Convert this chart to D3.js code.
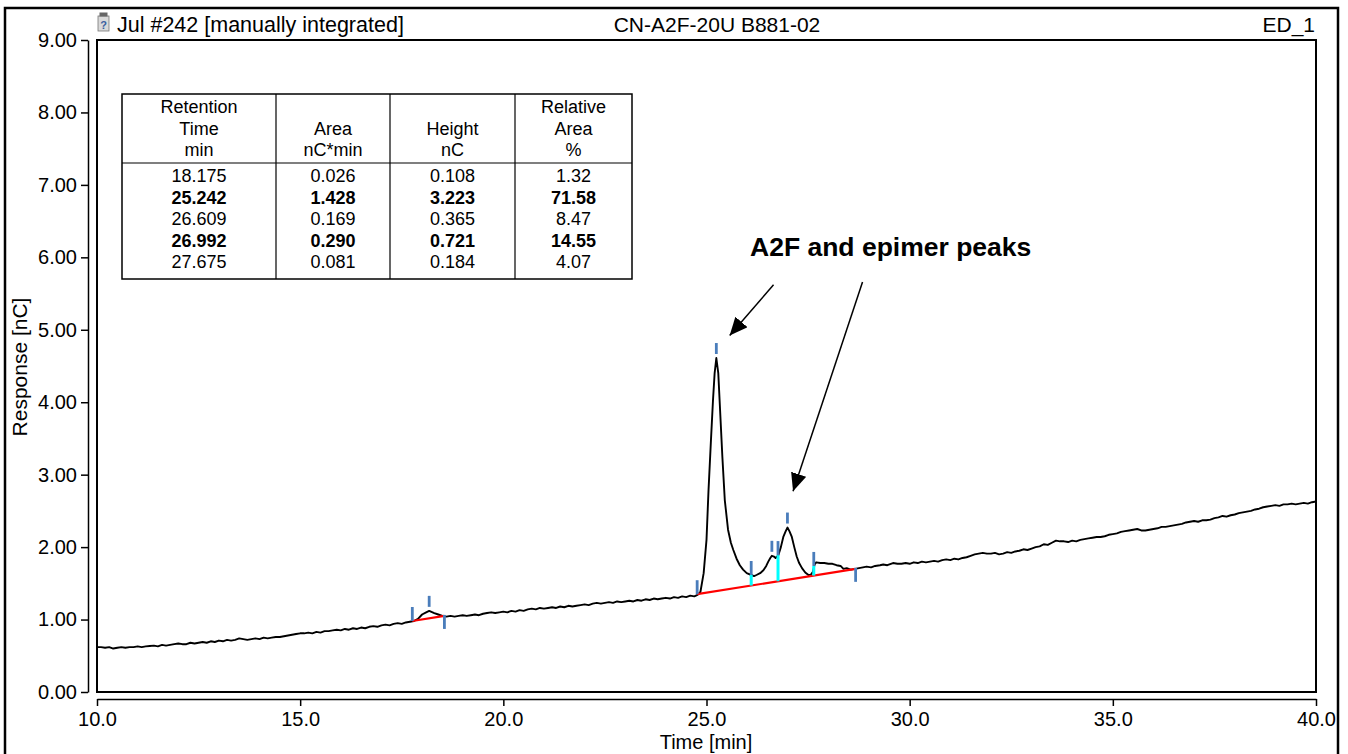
<!DOCTYPE html>
<html>
<head>
<meta charset="utf-8">
<script src="https://cdn.jsdelivr.net/npm/d3@7"></script>
<style>
body { margin: 0; background: #fff; }
text { font-family: Arial, "Liberation Sans", sans-serif; fill: #000; }
</style>
</head>
<body>
<div id="chart"></div>
<script>
// chromatogram, [time min, response nC]
var trace = [
  [10.0,0.62],[10.1,0.62],[10.2,0.61],[10.3,0.62],[10.4,0.60],[10.5,0.61],[10.6,0.62],[10.7,0.61],[10.8,0.62],[10.9,0.62],
  [11.0,0.63],[11.1,0.62],[11.2,0.63],[11.3,0.635],[11.4,0.64],[11.5,0.63],[11.6,0.65],[11.7,0.64],[11.8,0.65],[11.9,0.66],
  [12.0,0.67],[12.1,0.66],[12.2,0.66],[12.3,0.68],[12.4,0.67],[12.5,0.68],[12.6,0.69],[12.7,0.68],[12.8,0.70],[12.9,0.69],
  [13.0,0.71],[13.1,0.70],[13.2,0.72],[13.3,0.71],[13.4,0.72],[13.5,0.74],[13.6,0.73],[13.7,0.72],[13.8,0.73],[13.9,0.74],
  [14.0,0.73],[14.1,0.75],[14.2,0.74],[14.3,0.75],[14.4,0.76],[14.5,0.76],[14.6,0.77],[14.7,0.78],[14.8,0.79],[14.9,0.80],
  [15.0,0.81],[15.1,0.81],[15.2,0.82],[15.3,0.81],[15.4,0.83],[15.5,0.82],[15.6,0.84],[15.7,0.84],[15.8,0.85],[15.9,0.86],
  [16.0,0.85],[16.1,0.87],[16.2,0.86],[16.3,0.88],[16.4,0.87],[16.5,0.89],[16.6,0.88],[16.7,0.90],[16.8,0.91],[16.9,0.90],
  [17.0,0.92],[17.1,0.93],[17.2,0.92],[17.3,0.94],[17.4,0.95],[17.5,0.94],[17.6,0.96],[17.7,0.97],[17.8,0.98],[17.9,1.01],
  [18.0,1.07],[18.1,1.10],[18.175,1.12],[18.3,1.09],[18.4,1.07],[18.5,1.05],[18.6,1.04],[18.7,1.05],[18.8,1.04],[18.9,1.05],
  [19.0,1.06],[19.1,1.05],[19.2,1.06],[19.3,1.07],[19.4,1.06],[19.5,1.08],[19.6,1.09],[19.7,1.10],[19.8,1.09],[19.9,1.10],
  [20.0,1.11],[20.1,1.10],[20.2,1.12],[20.3,1.11],[20.4,1.13],[20.5,1.12],[20.6,1.14],[20.7,1.15],[20.8,1.14],[20.9,1.16],
  [21.0,1.15],[21.1,1.16],[21.2,1.17],[21.3,1.16],[21.4,1.18],[21.5,1.17],[21.6,1.19],[21.7,1.18],[21.8,1.19],[21.9,1.20],
  [22.0,1.21],[22.1,1.20],[22.2,1.22],[22.3,1.23],[22.4,1.22],[22.5,1.23],[22.6,1.24],[22.7,1.23],[22.8,1.25],[22.9,1.24],
  [23.0,1.25],[23.1,1.26],[23.2,1.25],[23.3,1.27],[23.4,1.26],[23.5,1.28],[23.6,1.27],[23.7,1.29],[23.8,1.28],[23.9,1.29],
  [24.0,1.30],[24.1,1.29],[24.2,1.31],[24.3,1.30],[24.4,1.32],[24.5,1.31],[24.6,1.33],[24.7,1.32],[24.78,1.34],[24.85,1.38],
  [24.93,1.64],[25.0,2.10],[25.05,2.79],[25.11,3.48],[25.16,4.03],[25.2,4.40],[25.242,4.61],[25.29,4.40],[25.33,3.94],[25.39,3.25],
  [25.45,2.65],[25.53,2.24],[25.6,2.06],[25.66,1.96],[25.74,1.84],[25.82,1.75],[25.9,1.69],[25.99,1.64],[26.1,1.615],[26.17,1.60],
  [26.23,1.615],[26.32,1.64],[26.4,1.68],[26.47,1.74],[26.52,1.80],[26.57,1.85],[26.609,1.88],[26.66,1.87],[26.7,1.85],[26.74,1.87],
  [26.77,1.89],[26.83,2.00],[26.89,2.14],[26.95,2.22],[26.992,2.27],[27.04,2.22],[27.1,2.14],[27.16,2.00],[27.22,1.87],[27.28,1.78],
  [27.35,1.71],[27.43,1.65],[27.51,1.615],[27.57,1.62],[27.62,1.66],[27.66,1.76],[27.7,1.79],[27.8,1.78],[27.9,1.78],[28.0,1.77],
  [28.1,1.77],[28.2,1.75],[28.3,1.74],[28.37,1.70],[28.45,1.71],[28.55,1.69],[28.66,1.70],[28.75,1.71],[28.85,1.72],[28.94,1.73],
  [29.05,1.72],[29.15,1.74],[29.27,1.75],[29.35,1.76],[29.45,1.75],[29.59,1.78],[29.7,1.77],[29.8,1.77],[29.9,1.78],[30.0,1.77],
  [30.1,1.79],[30.2,1.78],[30.3,1.80],[30.4,1.79],[30.5,1.80],[30.6,1.81],[30.7,1.80],[30.8,1.82],[30.9,1.83],[31.0,1.82],
  [31.1,1.84],[31.2,1.83],[31.3,1.85],[31.4,1.86],[31.5,1.88],[31.6,1.90],[31.7,1.91],[31.8,1.92],[31.9,1.91],[32.0,1.91],
  [32.1,1.92],[32.2,1.90],[32.3,1.91],[32.4,1.93],[32.5,1.92],[32.6,1.94],[32.7,1.95],[32.8,1.97],[32.9,1.96],[33.0,1.98],
  [33.1,2.00],[33.2,2.01],[33.3,2.04],[33.4,2.03],[33.5,2.06],[33.6,2.09],[33.7,2.08],[33.8,2.08],[33.9,2.07],[34.0,2.09],
  [34.1,2.08],[34.2,2.10],[34.3,2.11],[34.4,2.12],[34.5,2.13],[34.6,2.14],[34.7,2.14],[34.8,2.15],[34.9,2.17],[35.0,2.18],
  [35.1,2.19],[35.2,2.21],[35.3,2.22],[35.4,2.23],[35.5,2.24],[35.6,2.25],[35.7,2.23],[35.8,2.23],[35.9,2.24],[36.0,2.25],
  [36.1,2.26],[36.2,2.28],[36.3,2.28],[36.4,2.29],[36.5,2.30],[36.6,2.31],[36.7,2.32],[36.8,2.34],[36.9,2.35],[37.0,2.36],
  [37.1,2.35],[37.2,2.37],[37.3,2.37],[37.4,2.38],[37.5,2.40],[37.6,2.41],[37.7,2.43],[37.8,2.42],[37.9,2.44],[38.0,2.45],
  [38.1,2.47],[38.2,2.48],[38.3,2.49],[38.4,2.50],[38.5,2.52],[38.6,2.53],[38.7,2.55],[38.8,2.56],[38.9,2.57],[39.0,2.58],
  [39.1,2.57],[39.2,2.59],[39.3,2.59],[39.4,2.60],[39.5,2.59],[39.6,2.60],[39.7,2.61],[39.8,2.60],[39.9,2.62],[40.0,2.63]
];

// integration baselines (red), [start, end]
var baselines = [
  [[17.76, 0.98], [18.55, 1.05]],
  [[24.77, 1.35], [28.67, 1.70]]
];

// peak delimiters and apex marks: [time, response, kind]
var peakMarks = [
  [17.76, 0.98, "start"], [18.175, 1.12, "apex"], [18.55, 1.05, "end"],
  [24.77, 1.35, "start"], [25.242, 4.61, "apex"], [26.10, 1.615, "drop"],
  [26.609, 1.88, "apex"], [26.76, 1.89, "drop"], [26.992, 2.27, "apex"],
  [27.64, 1.74, "drop"], [28.67, 1.70, "end"]
];

var xTicks = [10, 15, 20, 25, 30, 35, 40];
var yTicks = [0, 1, 2, 3, 4, 5, 6, 7, 8, 9];

// result table
var tableHead = [["Retention", "Time", "min"], ["", "Area", "nC*min"], ["", "Height", "nC"], ["Relative", "Area", "%"]];
var retTime = ["18.175", "25.242", "26.609", "26.992", "27.675"];
var areaVals = ["0.026", "1.428", "0.169", "0.290", "0.081"];
var heightVals = ["0.108", "3.223", "0.365", "0.721", "0.184"];
var relArea = ["1.32", "71.58", "8.47", "14.55", "4.07"];
var boldRows = [false, true, false, true, false];

var noteText = "A2F and epimer peaks";
var noteArrows = [
  [[26.65, 5.62], [25.57, 4.92]],
  [[28.84, 5.66], [27.13, 2.77]]
];

var W = 1348, H = 754;
var svg = d3.select("#chart").append("svg").attr("width", W).attr("height", H);

var x = d3.scaleLinear().domain([10, 40]).range([97, 1316]);
var y = d3.scaleLinear().domain([0, 9]).range([692, 40]);

//outer frame
svg.append("rect")
    .attr("x", 5).attr("y", 8).attr("width", 1333).attr("height", 770)
    .style("fill", "none").style("stroke", "#000").style("stroke-width", 2.5);

//header line
function header() {
    var g = svg.append("g");
    g.append("rect").attr("x", 98).attr("y", 16).attr("width", 11).attr("height", 15)
        .style("fill", "#d9d9d9").style("stroke", "#777").style("stroke-width", 0.8);
    g.append("rect").attr("x", 99.5).attr("y", 12.5).attr("width", 8).attr("height", 4).style("fill", "#666");
    g.append("text").attr("x", 103.5).attr("y", 28.5).attr("text-anchor", "middle")
        .style("font-size", "11px").style("font-weight", "bold").style("fill", "#3a5fa0").text("?");
    g.append("text").attr("x", 117).attr("y", 32).style("font-size", "21.5px").text("Jul #242 [manually integrated]");
    g.append("text").attr("x", 717).attr("y", 32).attr("text-anchor", "middle").style("font-size", "21px").text("CN-A2F-20U B881-02");
    g.append("text").attr("x", 1315).attr("y", 32).attr("text-anchor", "end").style("font-size", "21px").text("ED_1");
}

//axes with minor ticks
function axes() {
    var yg = svg.append("g").attr("transform", "translate(88,0)");
    yg.call(d3.axisLeft(y).tickValues(d3.range(0, 9.01, 0.25)).tickSize(4).tickSizeOuter(0).tickFormat(""));
    yg.call(d3.axisLeft(y).tickValues(yTicks).tickSize(7).tickSizeOuter(0).tickPadding(4).tickFormat(d3.format(".2f")));
    yg.selectAll("path, line").style("stroke", "#000").style("stroke-width", 1.5);
    yg.selectAll("text").style("font-size", "20px").style("font-family", "Arial, 'Liberation Sans', sans-serif");

    var xg = svg.append("g").attr("transform", "translate(0,699)");
    xg.call(d3.axisBottom(x).tickValues(d3.range(10, 40.01, 1)).tickSize(4).tickSizeOuter(0).tickFormat(""));
    xg.call(d3.axisBottom(x).tickValues(xTicks).tickSize(7).tickSizeOuter(0).tickPadding(6).tickFormat(d3.format(".1f")));
    xg.selectAll("path, line").style("stroke", "#000").style("stroke-width", 1.5);
    xg.selectAll("text").style("font-size", "20px").style("font-family", "Arial, 'Liberation Sans', sans-serif");

    svg.append("text").attr("transform", "translate(27,367) rotate(-90)").attr("text-anchor", "middle")
        .style("font-size", "21px").text("Response [nC]");
    svg.append("text").attr("x", 706).attr("y", 749).attr("text-anchor", "middle")
        .style("font-size", "20px").text("Time [min]");
}

//plot box
function plotBox() {
    svg.append("rect")
        .attr("x", x(10)).attr("y", y(9)).attr("width", x(40) - x(10)).attr("height", y(0) - y(9))
        .style("fill", "none").style("stroke", "#000").style("stroke-width", 2);
}

//result table
function resultTable() {
    var g = svg.append("g");
    var cols = [122, 276, 390, 515, 632];
    var top = 94, sep = 163, bottom = 279;
    g.append("rect").attr("x", cols[0]).attr("y", top).attr("width", cols[4] - cols[0]).attr("height", bottom - top)
        .style("fill", "#fff").style("stroke", "#000").style("stroke-width", 1.5);
    cols.slice(1, 4).forEach(function(c) {
        g.append("line").attr("x1", c).attr("x2", c).attr("y1", top).attr("y2", bottom)
            .style("stroke", "#000").style("stroke-width", 1.2);
    });
    g.append("line").attr("x1", cols[0]).attr("x2", cols[4]).attr("y1", sep).attr("y2", sep)
        .style("stroke", "#000").style("stroke-width", 1.2);

    var colData = [retTime, areaVals, heightVals, relArea];
    colData.forEach(function(vals, i) {
        var cx = (cols[i] + cols[i + 1]) / 2;
        tableHead[i].forEach(function(t, j) {
            g.append("text").attr("x", cx).attr("y", 113 + j * 21.5).attr("text-anchor", "middle")
                .style("font-size", "18px").text(t);
        });
        vals.forEach(function(v, j) {
            g.append("text").attr("x", cx).attr("y", 182 + j * 21.5).attr("text-anchor", "middle")
                .style("font-size", "18px").style("font-weight", boldRows[j] ? "bold" : "normal").text(v);
        });
    });
}

//trace, integration baselines and peak marks
function chromatogram() {
    var line = d3.line().x(function(d) { return x(d[0]); }).y(function(d) { return y(d[1]); });

    svg.append("path").datum(trace).attr("d", line)
        .style("fill", "none").style("stroke", "#000").style("stroke-width", 1.9).style("stroke-linejoin", "round");

    svg.selectAll(".base").data(baselines).enter().append("path").attr("class", "base")
        .attr("d", line).style("stroke", "#ff0000").style("stroke-width", 2.2);

    function baseAt(t) {
        var b = baselines.find(function(s) { return t >= s[0][0] - 0.01 && t <= s[1][0] + 0.01; });
        return b[0][1] + (t - b[0][0]) / (b[1][0] - b[0][0]) * (b[1][1] - b[0][1]);
    }

    peakMarks.forEach(function(m) {
        var px = x(m[0]), py = y(m[1]);
        var y1, y2;
        if (m[2] === "apex") { y1 = py - 15; y2 = py - 4; }
        else if (m[2] === "end") { y1 = py - 1; y2 = py + 13; }
        else { y1 = py - 14; y2 = py; }
        if (m[2] === "drop") {
            svg.append("line").attr("x1", px).attr("x2", px).attr("y1", py).attr("y2", y(baseAt(m[0])))
                .style("stroke", "#00ffff").style("stroke-width", 3);
        }
        svg.append("line").attr("x1", px).attr("x2", px).attr("y1", y1).attr("y2", y2)
            .style("stroke", "#4a7dbb").style("stroke-width", 2.8);
    });
}

//annotation with arrows
function annotation() {
    svg.append("defs").append("marker")
        .attr("id", "head").attr("markerUnits", "userSpaceOnUse")
        .attr("markerWidth", 18).attr("markerHeight", 16).attr("refX", 18).attr("refY", 8)
        .attr("orient", "auto")
        .append("path").attr("d", "M0,0 L18,8 L0,16 Z").style("fill", "#000");

    svg.append("text").attr("x", 750).attr("y", 256)
        .style("font-size", "26.5px").style("font-weight", "bold").text(noteText);

    noteArrows.forEach(function(a) {
        svg.append("line")
            .attr("x1", x(a[0][0])).attr("y1", y(a[0][1]))
            .attr("x2", x(a[1][0])).attr("y2", y(a[1][1]))
            .attr("marker-end", "url(#head)")
            .style("stroke", "#000").style("stroke-width", 1.5);
    });
}

header();
plotBox();
axes();
resultTable();
chromatogram();
annotation();
</script>
</body>
</html>
